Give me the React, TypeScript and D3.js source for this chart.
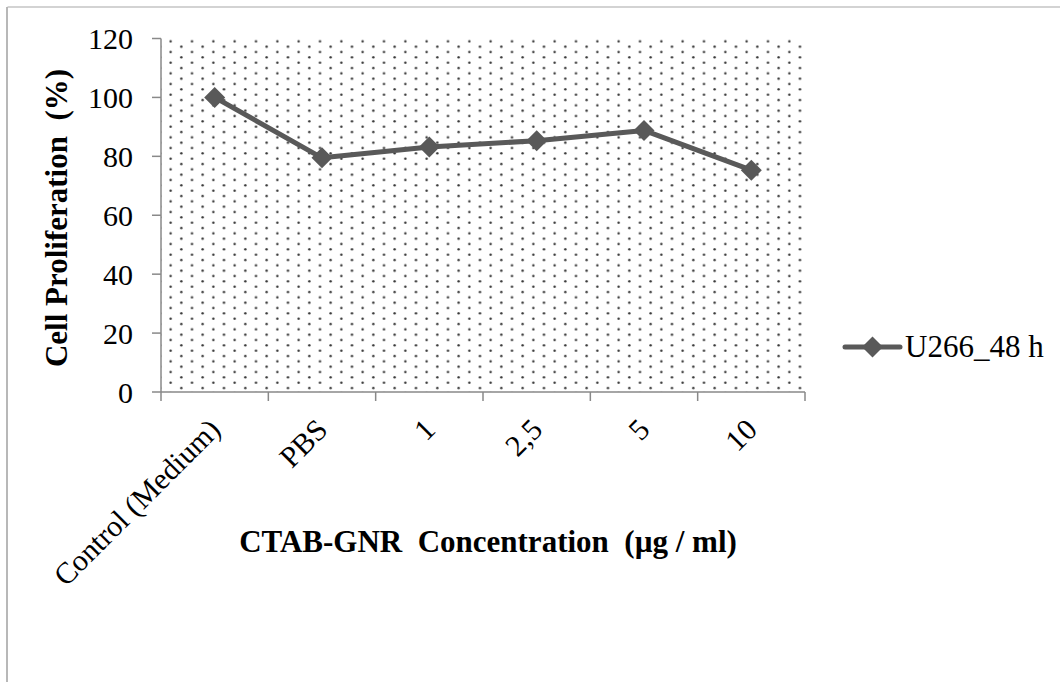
import React from "react";
import * as d3 from "d3";

// Cell proliferation of U266 cells after 48 h with CTAB-GNR
const categories = ["Control (Medium)", "PBS", "1", "2,5", "5", "10"];
const proliferation = [100, 79.5, 83.2, 85.3, 88.8, 75.3];
const yTicks = [0, 20, 40, 60, 80, 100, 120];
const seriesName = "U266_48 h";

const W = 1060;
const H = 682;
const plot = { left: 161, right: 805, top: 38.5, bottom: 392 };
const LINE = "#595959";
const AXIS = "#898989";
const FONT = '"Liberation Serif", "Times New Roman", serif';
const serif = { fontFamily: FONT };

function diamond(cx: number, cy: number, r: number) {
  return `M${cx},${cy - r}L${cx + r},${cy}L${cx},${cy + r}L${cx - r},${cy}Z`;
}

export default function App() {
  const x = d3
    .scaleBand<string>()
    .domain(categories)
    .range([plot.left, plot.right])
    .padding(0);
  const y = d3.scaleLinear().domain([0, 120]).range([plot.bottom, plot.top]);
  const cx = (c: string) => (x(c) as number) + x.bandwidth() / 2;

  const line = d3
    .line<number>()
    .x((_, i) => cx(categories[i]))
    .y((v) => y(v));

  const boundaries = categories.map((c) => x(c) as number).concat(plot.right);

  const legendY = 347;

  return (
    <svg
      width={W}
      height={H}
      style={{ position: "absolute", left: 0, top: 0, background: "#fff" }}
    >
      <defs>
        <pattern
          id="dots"
          patternUnits="userSpaceOnUse"
          x={165.333}
          y={38.667}
          width={21.333}
          height={10.667}
        >
          <circle cx={5.333} cy={2.667} r={1.2} fill="#333" />
          <circle cx={16} cy={8} r={1.2} fill="#333" />
        </pattern>
      </defs>

      {/* chart frame edges */}
      <line x1={7.5} y1={7} x2={W} y2={7} stroke="#c4c4c4" strokeWidth={1.5} />
      <line x1={7} y1={7} x2={7} y2={H} stroke="#a0a0a0" strokeWidth={1.5} />

      {/* plot area */}
      <rect
        x={plot.left}
        y={plot.top}
        width={plot.right - plot.left}
        height={plot.bottom - plot.top}
        fill="url(#dots)"
      />

      {/* y axis */}
      <line x1={plot.left} y1={plot.top} x2={plot.left} y2={plot.bottom} stroke={AXIS} strokeWidth={1.5} />
      {yTicks.map((t) => (
        <g key={t}>
          <line x1={plot.left - 9} x2={plot.left} y1={y(t)} y2={y(t)} stroke={AXIS} strokeWidth={1.5} />
          <text x={133} y={y(t)} dy="0.35em" textAnchor="end" fontSize={30} fill="#000" style={serif}>
            {t}
          </text>
        </g>
      ))}

      {/* x axis */}
      <line x1={plot.left} y1={plot.bottom} x2={plot.right} y2={plot.bottom} stroke={AXIS} strokeWidth={1.5} />
      {boundaries.map((b, i) => (
        <line key={i} x1={b} x2={b} y1={plot.bottom} y2={plot.bottom + 9} stroke={AXIS} strokeWidth={1.5} />
      ))}
      {categories.map((c) => (
        <text
          key={c}
          transform={`translate(${cx(c)},424) rotate(-45)`}
          dy="0.35em"
          textAnchor="end"
          fontSize={30}
          fill="#000"
          style={serif}
        >
          {c}
        </text>
      ))}

      {/* axis titles */}
      <text
        x={488}
        y={552}
        textAnchor="middle"
        fontSize={31}
        fontWeight="bold"
        fill="#000"
        style={{ ...serif, whiteSpace: "pre" }}
      >
        {"CTAB-GNR  Concentration  (µg / ml)"}
      </text>
      <text
        transform="translate(67,218) rotate(-90)"
        textAnchor="middle"
        fontSize={31}
        fontWeight="bold"
        fill="#000"
        style={{ ...serif, whiteSpace: "pre" }}
      >
        {"Cell Proliferation  (%)"}
      </text>

      {/* series */}
      <path d={line(proliferation) as string} fill="none" stroke={LINE} strokeWidth={5} strokeLinejoin="round" />
      {proliferation.map((v, i) => (
        <path key={i} d={diamond(cx(categories[i]), y(v), 10.5)} fill={LINE} />
      ))}

      {/* legend */}
      <line x1={845} x2={900} y1={legendY} y2={legendY} stroke={LINE} strokeWidth={5} strokeLinecap="round" />
      <path d={diamond(872.5, legendY, 10.5)} fill={LINE} />
      <text x={905} y={legendY} dy="0.33em" fontSize={31} fill="#000" style={serif}>
        {seriesName}
      </text>
    </svg>
  );
}
